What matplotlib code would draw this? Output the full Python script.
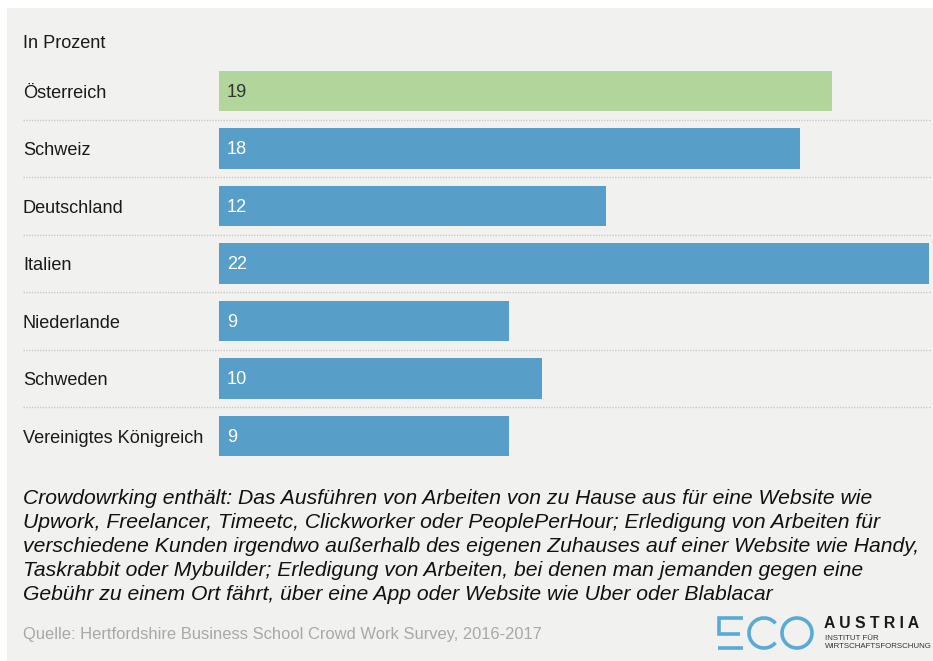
import matplotlib.pyplot as plt
from matplotlib.patches import Rectangle, Arc
from matplotlib.transforms import blended_transform_factory

# data ------------------------------------------------------------------------
countries = ["Österreich", "Schweiz", "Deutschland", "Italien",
             "Niederlande", "Schweden", "Vereinigtes Königreich"]
values = [19, 18, 12, 22, 9, 10, 9]
highlight = "Österreich"

unit_label = "In Prozent"
note = ("Crowdowrking enthält: Das Ausführen von Arbeiten von zu Hause aus für eine Website wie\n"
        "Upwork, Freelancer, Timeetc, Clickworker oder PeoplePerHour; Erledigung von Arbeiten für\n"
        "verschiedene Kunden irgendwo außerhalb des eigenen Zuhauses auf einer Website wie Handy,\n"
        "Taskrabbit oder Mybuilder; Erledigung von Arbeiten, bei denen man jemanden gegen eine\n"
        "Gebühr zu einem Ort fährt, über eine App oder Website wie Uber oder Blablacar")
source = "Quelle: Hertfordshire Business School Crowd Work Survey, 2016-2017"

# style -----------------------------------------------------------------------
plt.rcParams['font.family'] = ['Liberation Sans', 'DejaVu Sans']
W, H = 933, 661
BLUE = "#579fc8"
GREEN = "#b1d59b"
PANEL = "#f1f1f0"

fig = plt.figure(figsize=(W / 100, H / 100), dpi=100)
fig.patch.set_facecolor("white")

# background axes in pixel coordinates
bg = fig.add_axes([0, 0, 1, 1], zorder=0)
bg.set_xlim(0, W)
bg.set_ylim(H, 0)
bg.axis("off")
bg.add_patch(Rectangle((7, 8), W - 7, H - 8, color=PANEL, lw=0))

# bar axes: x 219..929 px, rows centred at 91 + 57.5*i
n = len(countries)
top_px, step = 91 - 57.5 / 2, 57.5
ax = fig.add_axes([219 / W, 1 - (top_px + n * step) / H, 710 / W, n * step / H],
                  zorder=1)
ax.patch.set_alpha(0)
ax.set_xlim(0, 22)
ax.set_ylim(n - 0.5, -0.5)
ax.axis("off")

colors = [GREEN if c == highlight else BLUE for c in countries]
ax.barh(range(n), values, height=0.70, color=colors, lw=0)

trans = blended_transform_factory(fig.transFigure, ax.transData)
for i, (c, v) in enumerate(zip(countries, values)):
    ax.text(23 / W, i + 0.04, c, transform=trans, ha="left", va="center",
            fontsize=13.1, color="#1a1a1a")
    txtcol = "#333333" if c == highlight else "white"
    ax.text(0.25, i + 0.02, str(v), ha="left", va="center", fontsize=13.1,
            color=txtcol)
    if i < n - 1:
        ax.plot([23 / W, 930 / W], [i + 0.5, i + 0.5], transform=trans,
                color="#c9c9c9", lw=1, ls=(0, (1, 1)), clip_on=False)

# texts
bg.text(23, 44, unit_label, ha="left", va="center", fontsize=13.1, color="#1a1a1a")
bg.text(23, 489, note, ha="left", va="top", fontsize=15.2, style="italic",
        color="#111111", linespacing=1.33)
bg.text(23, 634, source, ha="left", va="center", fontsize=11.9, color="#a8a8a8")

# ECO logo
LOGO = "#5aaad6"
lw = 2.6
bg.plot([743, 719, 719, 740], [618, 618, 634, 634], color=LOGO, lw=lw,
        solid_capstyle="butt", solid_joinstyle="miter")
bg.plot([718, 743], [648, 648], color=LOGO, lw=lw, solid_capstyle="butt")
bg.add_patch(Arc((764, 633), 30, 30, theta1=40, theta2=320, color=LOGO, lw=lw))
bg.add_patch(Arc((797, 633), 30, 30, color=LOGO, lw=lw))
bg.text(824, 624, "A U S T R I A", ha="left", va="center", fontsize=11.3,
        fontweight="bold", color="#1a1a1a")
bg.text(825, 639, "INSTITUT FÜR", ha="left", va="center", fontsize=5.7,
        color="#333333")
bg.text(825, 647, "WIRTSCHAFTSFORSCHUNG", ha="left", va="center", fontsize=5.7,
        color="#333333")

fig.savefig("out.png", dpi=100)
